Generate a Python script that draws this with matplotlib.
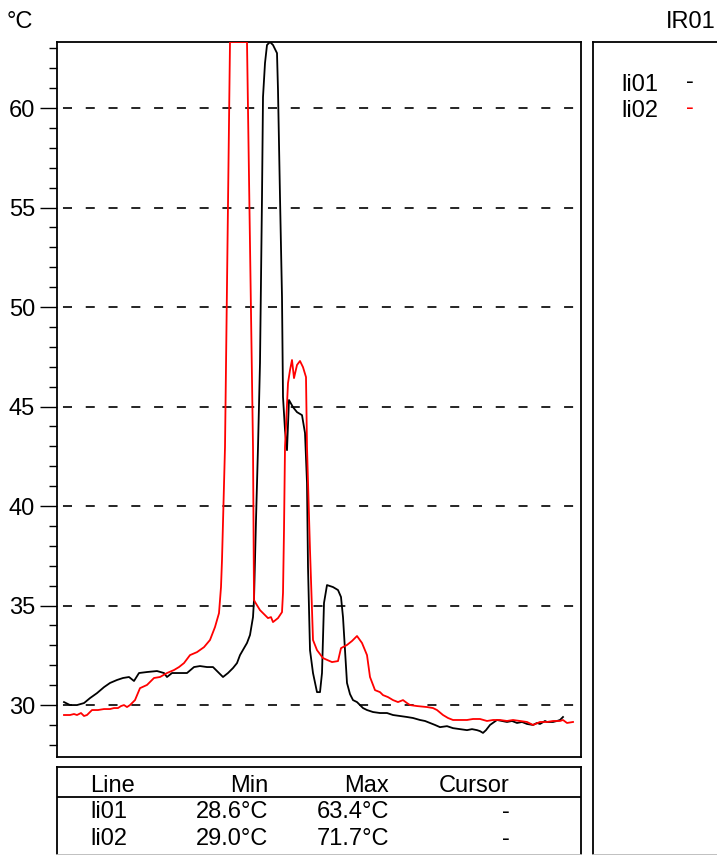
import numpy as np
import matplotlib.pyplot as plt
from matplotlib.ticker import MultipleLocator

plt.rcParams['font.family'] = ['Liberation Sans', 'DejaVu Sans']
plt.rcParams['lines.scale_dashes'] = False

# line profile li01 (black) : position, temperature
pos_li01 = [64, 70, 77, 84, 90, 97, 104, 110, 117, 123, 129, 134, 139, 147, 157, 164, 167, 172,
            180, 187, 194, 200, 207, 213, 218, 223, 228, 233, 237, 240, 244, 247, 250, 253, 254,
            256, 258, 260, 262, 263, 265, 267, 270, 273, 277, 278, 280, 282, 283, 285, 287, 289,
            293, 297, 302, 305, 307, 308, 310, 313, 317, 320, 322, 324, 327, 333, 338, 341, 343,
            345, 347, 350, 353, 357, 360, 363, 367, 373, 380, 387, 393, 400, 407, 413, 420, 425,
            430, 435, 440, 447, 453, 460, 467, 472, 477, 480, 483, 486, 490, 497, 502, 507, 512,
            517, 522, 527, 533, 537, 540, 545, 547, 553, 557, 560, 563]
t_li01 = [30.15, 30.0, 30.0, 30.10, 30.35, 30.60, 30.90, 31.11, 31.26, 31.36, 31.41, 31.21, 31.61,
          31.66, 31.71, 31.61, 31.41, 31.61, 31.61, 31.61, 31.91, 31.96, 31.91, 31.91, 31.66,
          31.41, 31.61, 31.86, 32.11, 32.51, 32.86, 33.12, 33.52, 34.42, 35.28, 39.30, 42.96,
          47.19, 55.53, 60.55, 62.26, 63.17, 63.4, 63.17, 62.76, 60.90, 55.53, 50.50, 45.48,
          43.82, 42.81, 45.33, 44.97, 44.72, 44.57, 43.67, 41.16, 36.93, 32.76, 31.61, 30.65,
          30.65, 31.61, 35.13, 36.03, 35.93, 35.78, 35.43, 34.42, 32.76, 31.11, 30.55, 30.25,
          30.15, 30.0, 29.85, 29.75, 29.65, 29.60, 29.60, 29.50, 29.45, 29.40, 29.35, 29.25,
          29.20, 29.10, 29.0, 28.89, 28.94, 28.84, 28.79, 28.74, 28.79, 28.74, 28.69, 28.6,
          28.74, 29.0, 29.25, 29.20, 29.15, 29.20, 29.10, 29.15, 29.05, 29.0, 29.10, 29.05,
          29.20, 29.15, 29.15, 29.20, 29.25, 29.40]

# line profile li02 (red)
pos_li02 = [64, 70, 74, 77, 81, 84, 87, 92, 98, 104, 110, 114, 118, 121, 124, 127, 130, 135, 140,
            147, 154, 160, 167, 174, 179, 184, 190, 197, 204, 210, 215, 219, 221, 222, 225, 230,
            247, 253, 254, 255, 260, 265, 268, 271, 273, 278, 282, 283, 284, 285, 288, 290, 292,
            294, 297, 300, 303, 306, 307, 310, 313, 317, 323, 332, 338, 341, 347, 352, 357, 362,
            367, 370, 375, 380, 383, 388, 393, 398, 403, 407, 410, 417, 427, 433, 437, 443, 448,
            453, 460, 467, 473, 480, 487, 493, 500, 507, 513, 520, 527, 533, 540, 547, 553, 560,
            563, 567, 573]
t_li02 = [29.50, 29.50, 29.55, 29.50, 29.60, 29.45, 29.50, 29.75, 29.75, 29.80, 29.80, 29.85, 29.85,
          29.95, 30.0, 29.90, 30.0, 30.25, 30.85, 31.01, 31.36, 31.41, 31.61, 31.76, 31.91, 32.11,
          32.51, 32.66, 32.91, 33.27, 33.92, 34.62, 35.93, 37.29, 42.96, 71.7, 71.7, 42.96, 35.28,
          35.18, 34.77, 34.52, 34.37, 34.42, 34.17, 34.37, 34.67, 35.63, 38.79, 42.96, 46.18,
          46.83, 47.34, 46.43, 47.09, 47.29, 46.98, 46.48, 42.96, 37.79, 33.27, 32.76, 32.36,
          32.16, 32.21, 32.86, 33.02, 33.22, 33.47, 33.12, 32.51, 31.41, 30.75, 30.65, 30.50,
          30.40, 30.25, 30.15, 30.25, 30.10, 30.0, 29.95, 29.90, 29.85, 29.75, 29.50, 29.35,
          29.25, 29.25, 29.25, 29.30, 29.30, 29.20, 29.25, 29.25, 29.20, 29.25, 29.20, 29.15,
          29.0, 29.15, 29.15, 29.20, 29.20, 29.25, 29.10, 29.15]

line_names = ['li01', 'li02']
line_colors = ['black', 'red']
mins = [28.6, 29.0]
maxs = [63.4, 71.7]

W, H = 717, 855
ymin, ymax = 27.39, 63.32
FS = 17

fig = plt.figure(figsize=(W / 100, H / 100), dpi=100)

# main plot
ax = fig.add_axes([57 / W, 1 - 757 / H, 524 / W, 715 / H])
for p, t, c in [(pos_li01, t_li01, line_colors[0]), (pos_li02, t_li02, line_colors[1])]:
    # values above the scale are drawn on the top edge
    ax.plot(p, np.minimum(np.array(t), ymax), color=c, lw=1.3, zorder=3)
ax.set_xlim(57, 581)
ax.set_ylim(ymin, ymax)
ax.set_xticks([])
ax.set_yticks(range(30, 61, 5))
ax.yaxis.set_minor_locator(MultipleLocator(1))
ax.tick_params(axis='y', which='major', length=12.2, width=1.0, labelsize=FS, pad=3.5)
ax.tick_params(axis='y', which='minor', length=5.8, width=1.0)
ax.yaxis.grid(True, which='major', color='black', lw=1.2, ls=(12.1, (6.5, 9.9)))
ax.set_axisbelow(True)
for s in ax.spines.values():
    s.set_linewidth(1.3)

# table below
tb = fig.add_axes([57 / W, 0, 524 / W, 88 / H])
tb.set_xlim(57, 581)
tb.set_ylim(855, 767)
tb.set_xticks([])
tb.set_yticks([])
for s in tb.spines.values():
    s.set_linewidth(1.3)
tb.spines['bottom'].set_color('#bbbbbb')
tb.axhline(797, color='black', lw=1.3)
tb.text(90, 792, 'Line', fontsize=FS, ha='left', va='baseline')
tb.text(268, 792, 'Min', fontsize=FS, ha='right', va='baseline')
tb.text(389, 792, 'Max', fontsize=FS, ha='right', va='baseline')
tb.text(510, 792, 'Cursor', fontsize=FS, ha='right', va='baseline')
for i, name in enumerate(line_names):
    yb = 818 + 27 * i
    tb.text(90, yb, name, fontsize=FS, ha='left', va='baseline')
    tb.text(268, yb, '%.1f°C' % mins[i], fontsize=FS, ha='right', va='baseline')
    tb.text(389, yb, '%.1f°C' % maxs[i], fontsize=FS, ha='right', va='baseline')
    tb.text(510, yb, '-', fontsize=FS, ha='right', va='baseline')

# right panel with legend
rp = fig.add_axes([593 / W, 0, 0.2, 813 / H])
rp.set_xticks([])
rp.set_yticks([])
rp.spines['right'].set_visible(False)
for s in rp.spines.values():
    s.set_linewidth(1.3)
rp.spines['bottom'].set_color('#bbbbbb')
for i, name in enumerate(line_names):
    yb = 91 + 26 * i
    fig.text(621 / W, 1 - yb / H, name, fontsize=FS, ha='left', va='baseline')
    fig.text(690 / W, 1 - (yb - 3) / H, '-', fontsize=FS, ha='center', va='baseline',
             color=line_colors[i])

fig.text(7 / W, 1 - 28 / H, '°C', fontsize=FS, ha='left', va='baseline')
fig.text(716 / W, 1 - 28 / H, 'IR01', fontsize=FS, ha='right', va='baseline')

fig.savefig('out.png', dpi=100)
